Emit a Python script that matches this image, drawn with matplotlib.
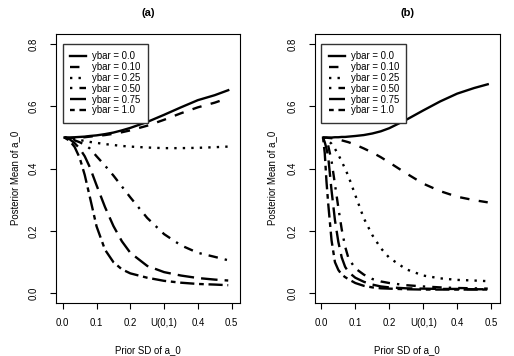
import matplotlib
matplotlib.use("Agg")
import matplotlib.pyplot as plt

plt.rcParams['font.family'] = ['Liberation Sans', 'DejaVu Sans']

labels = ["ybar = 0.0", "ybar = 0.10", "ybar = 0.25", "ybar = 0.50", "ybar = 0.75", "ybar = 1.0"]
xtick_pos = [0.0, 0.1, 0.2, 0.3, 0.4, 0.5]
xtick_labels = ["0.0", "0.1", "0.2", "U(0,1)", "0.4", "0.5"]
ytick_pos = [0.0, 0.2, 0.4, 0.6, 0.8]
ytick_labels = ["0.0", "0.2", "0.4", "0.6", "0.8"]

# Panel (a)
x_a = [0.005, 0.02, 0.035, 0.05, 0.065, 0.08, 0.1, 0.125, 0.15, 0.175, 0.2, 0.25, 0.3, 0.35, 0.4, 0.45, 0.49]
a_y00 = [0.5, 0.5, 0.501, 0.502, 0.503, 0.505, 0.507, 0.511, 0.516, 0.523, 0.531, 0.55, 0.573, 0.597, 0.62, 0.636, 0.652]
a_y10 = [0.5, 0.499, 0.499, 0.5, 0.501, 0.503, 0.505, 0.508, 0.512, 0.517, 0.523, 0.538, 0.557, 0.578, 0.597, 0.612, 0.627]
a_y25 = [0.5, 0.498, 0.495, 0.492, 0.489, 0.486, 0.483, 0.479, 0.476, 0.473, 0.471, 0.468, 0.466, 0.466, 0.467, 0.469, 0.471]
a_y50 = [0.5, 0.497, 0.491, 0.485, 0.477, 0.465, 0.44, 0.41, 0.378, 0.343, 0.308, 0.242, 0.19, 0.154, 0.13, 0.117, 0.106]
a_y75 = [0.5, 0.495, 0.482, 0.465, 0.44, 0.405, 0.347, 0.277, 0.216, 0.167, 0.13, 0.088, 0.068, 0.057, 0.049, 0.044, 0.041]
a_y100 = [0.5, 0.49, 0.47, 0.435, 0.38, 0.31, 0.215, 0.14, 0.1, 0.077, 0.064, 0.05, 0.04, 0.034, 0.03, 0.028, 0.026]

# Panel (b)
x_b = [0.005, 0.01, 0.015, 0.02, 0.03, 0.04, 0.05, 0.06, 0.07, 0.08, 0.1, 0.125, 0.15, 0.175, 0.2, 0.25, 0.3, 0.35, 0.4, 0.45, 0.49]
b_y00 = [0.5, 0.5, 0.5, 0.5, 0.5, 0.501, 0.501, 0.502, 0.502, 0.503, 0.505, 0.508, 0.513, 0.52, 0.53, 0.557, 0.587, 0.616, 0.641, 0.659, 0.671]
b_y10 = [0.5, 0.5, 0.5, 0.499, 0.498, 0.496, 0.494, 0.491, 0.488, 0.485, 0.477, 0.465, 0.452, 0.437, 0.42, 0.385, 0.352, 0.328, 0.31, 0.299, 0.292]
b_y25 = [0.5, 0.498, 0.495, 0.49, 0.48, 0.464, 0.445, 0.423, 0.4, 0.375, 0.315, 0.241, 0.187, 0.145, 0.114, 0.077, 0.057, 0.048, 0.043, 0.041, 0.039]
b_y50 = [0.5, 0.495, 0.487, 0.475, 0.425, 0.35, 0.275, 0.205, 0.15, 0.112, 0.08, 0.06, 0.046, 0.038, 0.033, 0.026, 0.022, 0.019, 0.017, 0.016, 0.015]
b_y75 = [0.5, 0.485, 0.465, 0.44, 0.33, 0.235, 0.165, 0.115, 0.085, 0.068, 0.05, 0.037, 0.028, 0.022, 0.019, 0.016, 0.015, 0.014, 0.014, 0.013, 0.013]
b_y100 = [0.5, 0.45, 0.36, 0.29, 0.17, 0.1, 0.075, 0.06, 0.052, 0.045, 0.033, 0.024, 0.019, 0.016, 0.015, 0.013, 0.012, 0.012, 0.012, 0.012, 0.012]

# R line types: solid, dashed, dotted, dotdash, longdash, twodash
styles = ['-', (0, (4, 4)), (0, (1, 2.6)), (0, (1, 3, 4, 3)), (0, (7, 3)), (0, (2, 2, 6, 2))]

panels = [
    ("(a)", x_a, [a_y00, a_y10, a_y25, a_y50, a_y75, a_y100], [0.109, 0.149, 0.358, 0.756], 15),
    ("(b)", x_b, [b_y00, b_y10, b_y25, b_y50, b_y75, b_y100], [0.612, 0.149, 0.360, 0.756], 272),
]

fig = plt.figure(figsize=(5.14, 3.56), dpi=100)

# calibrate font size so that the x label is ~66 px wide, as in the reference
renderer = fig.canvas.get_renderer()
probe = fig.text(0, 0, "Prior SD of a_0", fontsize=7)
w = probe.get_window_extent(renderer).width
probe.remove()
fs = 7 * 66.0 / w
fs_px = fs * 100 / 72.0
probe = fig.text(0, 0, "ybar = 0.10", fontsize=fs)
h = probe.get_window_extent(renderer).height
probe.remove()
lab_sp = (10.8 - h) / fs_px

for title, xs, series, rect, ylab_x in panels:
    ax = fig.add_axes(rect)
    for ys, ls, lab in zip(series, styles, labels):
        ax.plot(xs, ys, color='black', linestyle=ls, linewidth=1.7, label=lab,
                dash_capstyle='butt')
    ax.set_xlim(-0.02, 0.525)
    ax.set_ylim(-0.031, 0.833)
    ax.set_xticks(xtick_pos)
    ax.set_xticklabels(xtick_labels, fontsize=fs)
    ax.set_yticks(ytick_pos)
    ax.set_yticklabels(ytick_labels, fontsize=fs, rotation=90, va='center')
    ax.tick_params(direction='out', length=4.3, width=0.8, pad=6.5)
    ax.tick_params(axis='y', pad=8)
    for s in ax.spines.values():
        s.set_linewidth(0.8)
    ax.set_xlabel("Prior SD of a_0", fontsize=fs)
    ax.xaxis.set_label_coords(0.5, -0.155)
    fig.text(ylab_x / 514, 0.5, "Posterior Mean of a_0", fontsize=fs, rotation=90,
             ha='center', va='center')
    fig.text(rect[0] + rect[2] / 2, 1 - 13 / 356, title, fontsize=fs * 1.15, fontweight='bold',
             ha='center', va='center')
    leg = ax.legend(loc='upper left', bbox_to_anchor=(0.0, 0.8), bbox_transform=ax.transData,
                    borderaxespad=0, fontsize=fs, frameon=True, fancybox=False,
                    edgecolor='#333333', framealpha=1, handlelength=1.7,
                    handletextpad=0.6, labelspacing=lab_sp, borderpad=0.75)
    leg.get_frame().set_linewidth(1.0)

fig.savefig("out.png", dpi=100)
